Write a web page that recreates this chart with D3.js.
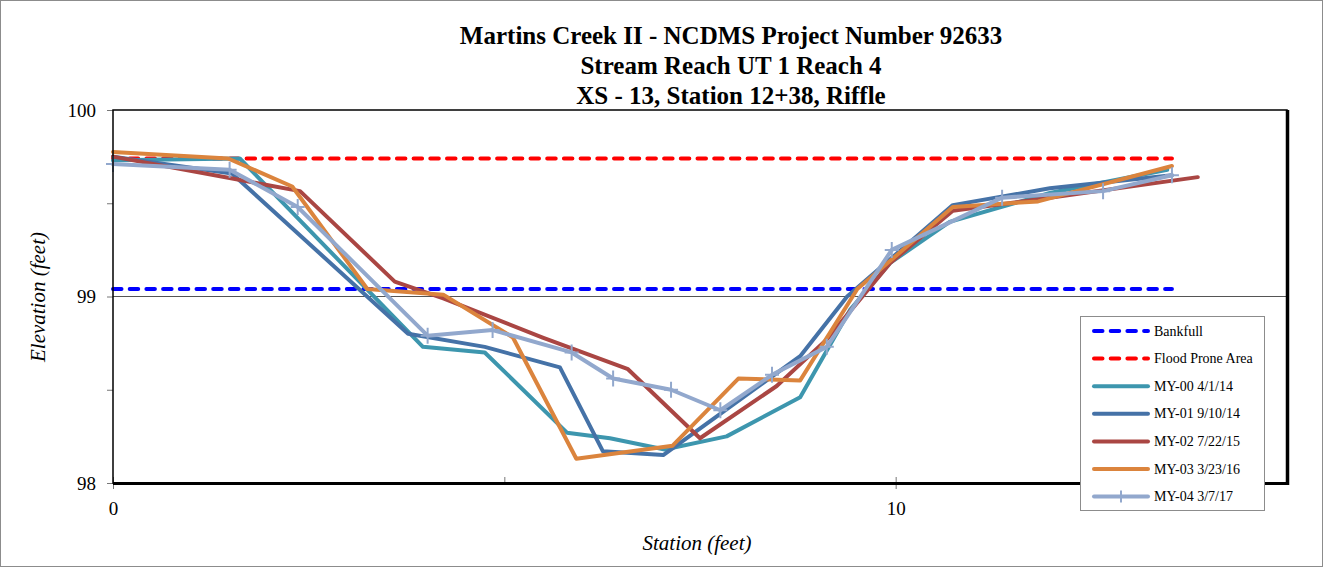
<!DOCTYPE html>
<html><head><meta charset="utf-8">
<script src="https://cdn.jsdelivr.net/npm/d3@7"></script>
<style>
html,body{margin:0;padding:0;background:#fff;}
svg{display:block;font-family:"Liberation Serif","Times New Roman",serif;}
</style></head>
<body>
<svg id="chart" width="1323" height="567"></svg>
<script>
const titleLines = ["Martins Creek II - NCDMS Project Number 92633", "Stream Reach UT 1 Reach 4", "XS - 13, Station 12+38, Riffle"];
const xTicks = [0, 10];
const xMinorTicks = [5];
const yTicks = [98, 99, 100];
const yMinorTicks = [98.5, 99.5];
const xLabel = "Station (feet)";
const yLabel = "Elevation (feet)";

const bankfull = [[0, 99.04], [13.53, 99.04]];
const floodProne = [[0, 99.74], [13.53, 99.74]];
const my00 = [[0,99.73],[1.62,99.74],[3.96,98.73],[4.75,98.70],[5.80,98.27],[6.35,98.24],[7.05,98.18],[7.84,98.25],[8.78,98.46],[9.42,98.93],[9.93,99.18],[10.69,99.40],[11.97,99.555],[13.47,99.68]];
const my01 = [[0,99.75],[1.52,99.66],[3.77,98.80],[4.75,98.73],[5.71,98.62],[6.26,98.17],[7.03,98.15],[8.78,98.68],[9.38,99.00],[10.73,99.49],[11.97,99.58],[13.53,99.65]];
const my02 = [[0,99.75],[1.49,99.635],[2.39,99.565],[3.60,99.08],[4.22,98.99],[5.49,98.78],[6.58,98.61],[7.50,98.24],[8.48,98.52],[9.12,98.77],[9.93,99.18],[10.73,99.46],[11.97,99.53],[13.86,99.64]];
const my03 = [[0,99.775],[1.47,99.74],[2.29,99.59],[3.25,99.04],[4.22,99.01],[5.11,98.78],[5.92,98.13],[7.15,98.20],[7.99,98.56],[8.78,98.55],[9.51,99.04],[10.73,99.48],[11.82,99.51],[13.53,99.70]];
const my04 = [[0,99.71],[1.49,99.68],[2.36,99.48],[4.02,98.79],[4.85,98.82],[5.86,98.70],[6.39,98.56],[7.13,98.50],[7.76,98.39],[8.42,98.58],[9.12,98.73],[9.95,99.25],[11.36,99.53],[12.65,99.565],[13.53,99.65]];

const seriesNames = ["Bankfull", "Flood Prone Area", "MY-00 4/1/14", "MY-01 9/10/14", "MY-02 7/22/15", "MY-03 3/23/16", "MY-04 3/7/17"];
const seriesData = [bankfull, floodProne, my00, my01, my02, my03, my04];
const seriesColors = ["#0000FF", "#FF0000", "#3D96AE", "#4572A7", "#AA4643", "#DB843D", "#92A8CD"];
const seriesDashed = [true, true, false, false, false, false, false];
const seriesMarker = [false, false, false, false, false, false, true];

const svg = d3.select("#chart");
const W = 1323, H = 567;
const m = {left:113, top:110, right:1287, bottom:483};

svg.append("rect").attr("x",0.5).attr("y",0.5).attr("width",W-1).attr("height",H-1)
  .attr("fill","#fff").attr("stroke","#8c8c8c").attr("stroke-width",1);

const x = d3.scaleLinear().domain([0,15]).range([m.left, m.right]);
const y = d3.scaleLinear().domain([98,100]).range([m.bottom, m.top]);

const title = svg.append("text").attr("text-anchor","middle").attr("font-weight","bold").attr("font-size",25).attr("fill","#000");
titleLines.forEach((t,i)=>{
  title.append("tspan").attr("x",731).attr("y",44+i*30).text(t);
});

svg.append("g").selectAll("line").data([99]).join("line")
  .attr("x1",m.left).attr("x2",m.right).attr("y1",d=>y(d)).attr("y2",d=>y(d))
  .attr("stroke","#555").attr("stroke-width",1);

const yAxis = svg.append("g").attr("transform",`translate(${m.left},0)`)
  .call(d3.axisLeft(y).tickValues(yTicks).tickSize(6).tickFormat(d3.format("d")));
const yAxisMinor = svg.append("g").attr("transform",`translate(${m.left},0)`)
  .call(d3.axisLeft(y).tickValues(yMinorTicks).tickSize(6).tickFormat(""));
const xAxis = svg.append("g").attr("transform",`translate(0,${m.bottom})`)
  .call(d3.axisBottom(x).tickValues(xTicks).tickSize(6).tickFormat(d3.format("d")));
const xAxisMinor = svg.append("g").attr("transform",`translate(0,${m.bottom})`)
  .call(d3.axisBottom(x).tickValues(xMinorTicks).tickSize(-6).tickFormat(""));
xAxis.selectAll(".tick line").attr("y1",-6);
[yAxis,yAxisMinor,xAxis,xAxisMinor].forEach(g=>{
  g.select(".domain").remove();
  g.selectAll(".tick line").attr("stroke","#777").attr("stroke-width",1);
  g.selectAll("text").attr("font-family","Liberation Serif, serif").attr("font-size",19).attr("fill","#000");
});
yAxis.selectAll("text").attr("x",-17);
xAxis.selectAll("text").attr("y",19);

svg.append("text").attr("x",697).attr("y",550).attr("text-anchor","middle")
  .attr("font-style","italic").attr("font-size",21).text(xLabel);
svg.append("text").attr("transform","translate(45,297) rotate(-90)").attr("text-anchor","middle")
  .attr("font-style","italic").attr("font-size",21).text(yLabel);

const line = d3.line().x(d=>x(d[0])).y(d=>y(d[1]));
const plot = svg.append("g");
seriesData.forEach((data,i)=>{
  plot.append("path").datum(data).attr("d",line).attr("fill","none")
    .attr("stroke",seriesColors[i]).attr("stroke-width",4)
    .attr("stroke-linejoin","round").attr("stroke-linecap","round")
    .attr("stroke-dasharray",seriesDashed[i]?"8.5 8.2":null);
  if(seriesMarker[i]){
    const mk = plot.append("g");
    mk.selectAll("path").data(data).join("path")
      .attr("d",d=>`M${x(d[0])-7},${y(d[1])}H${x(d[0])+7}M${x(d[0])},${y(d[1])-8}V${y(d[1])+8}`)
      .attr("stroke",seriesColors[i]).attr("stroke-width",2).attr("fill","none");
  }
});

svg.append("rect").attr("x",m.left).attr("y",m.top).attr("width",m.right-m.left).attr("height",m.bottom-m.top)
  .attr("fill","none").attr("stroke","#000").attr("stroke-width",1.5);
svg.append("line").attr("x1",m.left).attr("x2",m.right+1.5).attr("y1",m.bottom+0.5).attr("y2",m.bottom+0.5).attr("stroke","#000").attr("stroke-width",3);
svg.append("line").attr("x1",m.right+0.5).attr("x2",m.right+0.5).attr("y1",m.top).attr("y2",m.bottom+2).attr("stroke","#000").attr("stroke-width",3.5);

const lg = svg.append("g");
lg.append("rect").attr("x",1080.5).attr("y",316.5).attr("width",184).attr("height",194)
  .attr("fill","#fff").attr("stroke","#8c8c8c").attr("stroke-width",1);
seriesNames.forEach((name,i)=>{
  const yy = 331 + i*27.6;
  lg.append("line").attr("x1",1094).attr("x2",1148).attr("y1",yy).attr("y2",yy)
    .attr("stroke",seriesColors[i]).attr("stroke-width",4).attr("stroke-linecap","round")
    .attr("stroke-dasharray",seriesDashed[i]?"8.5 8.2":null);
  if(seriesMarker[i]){
    lg.append("path").attr("d",`M1121,${yy-6}V${yy+6}`).attr("stroke",seriesColors[i]).attr("stroke-width",2);
  }
  lg.append("text").attr("x",1154).attr("y",yy+4.5).attr("font-size",14).attr("fill","#000").text(name);
});
</script>
</body></html>
